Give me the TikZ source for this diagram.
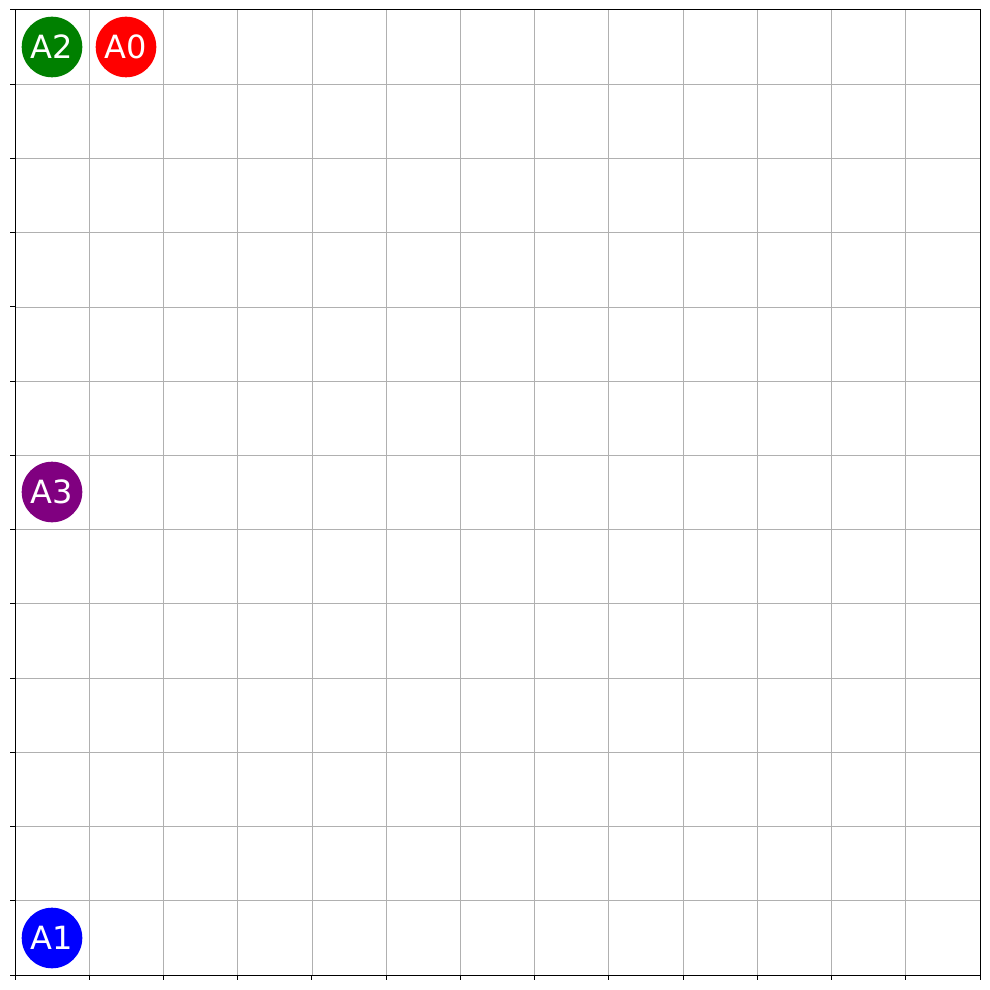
\documentclass[tikz,border=0pt]{standalone}
\usepackage{fontspec}
\setmainfont{DejaVu Sans}
\begin{document}
\begin{tikzpicture}[x=1pt,y=-1pt,
  agent/.style={circle,draw=none,minimum size=60.6pt,inner sep=0pt,text=white,font=\fontsize{32}{32}\selectfont},
  gridline/.style={draw={rgb,255:red,176;green,176;blue,176},line width=0.8pt},
  frame/.style={draw=black,line width=1pt},
  tick/.style={draw=black,line width=1pt}]
\useasboundingbox (0,0) rectangle (989,990);
\pgfmathsetmacro{\s}{965/13}
\foreach \i in {1,...,12} {
  \draw[gridline] ({15+\i*\s},10) -- ({15+\i*\s},975);
  \draw[gridline] (15,{10+\i*\s}) -- (980,{10+\i*\s});
}
\foreach \i in {0,...,13} {
  \draw[tick] ({15+\i*\s},975) -- ({15+\i*\s},980);
  \draw[tick] (10,{10+\i*\s}) -- (15,{10+\i*\s});
}
\draw[frame] (15,10) rectangle (980,975);
\node[agent,fill={rgb,255:red,0;green,128;blue,0}] (a2) at (52,47) {A2};
\node[agent,fill=red] (a0) at (126,47) {A0};
\node[agent,fill={rgb,255:red,128;green,0;blue,128}] (a3) at (52,492) {A3};
\node[agent,fill=blue] (a1) at (52,938) {A1};
\end{tikzpicture}
\end{document}
